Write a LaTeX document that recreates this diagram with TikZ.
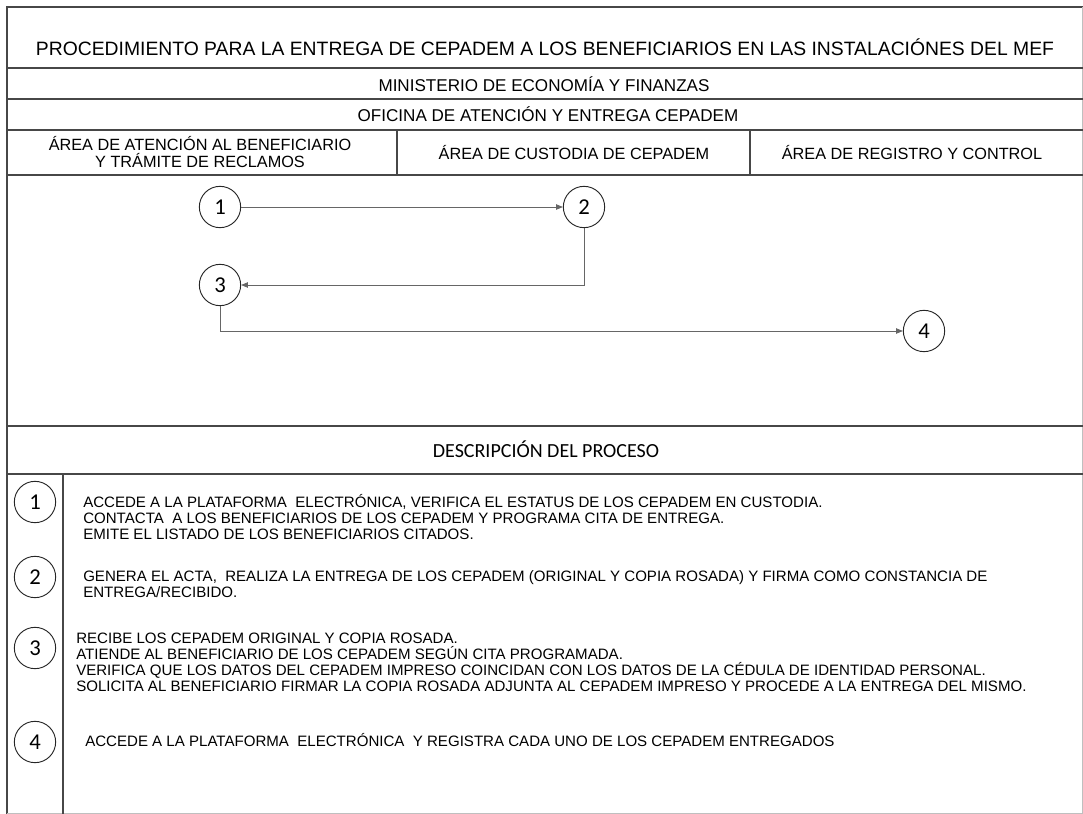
\documentclass[tikz,border=0pt]{standalone}
\usepackage{fontspec}
\setmainfont{Liberation Sans}
\newfontfamily\calibfont{Carlito}
\usetikzlibrary{arrows.meta}
\newcommand\titlefnt{\fontsize{14.5}{17}\selectfont}
\newcommand\hdrfnt{\fontsize{12.8}{15}\selectfont}
\newcommand\areafnt{\fontsize{12.2}{12.6}\selectfont}
\newcommand\descfnt{\fontsize{11.3}{13}\selectfont}
\newcommand\numfnt{\calibfont\fontsize{17}{19}\selectfont}
\newcommand\dhfnt{\calibfont\fontsize{15}{17}\selectfont}
\begin{document}
\begin{tikzpicture}[x=0.75pt,y=-0.75pt,
  frame/.style={draw=black!72, line width=0.9pt},
  numc/.style={circle, draw=black!85, line width=0.7pt, minimum size=31pt, inner sep=0pt, font=\numfnt},
  flow/.style={draw=black!60, line width=0.6pt, -{Triangle[length=5pt,width=4pt]}},
  hdr/.style={inner sep=0pt, font=\hdrfnt},
  area/.style={inner sep=0pt, font=\areafnt, align=center},
  dline/.style={anchor=base west, inner sep=0pt, font=\descfnt}]
\useasboundingbox (0,0) rectangle (1083,814);
% frame
\draw[frame] (1083,7) -- (7,7) -- (7,814);
\draw[draw=black!25, line width=0.6pt] (1082,7) -- (1082,813) -- (7,813);
\foreach \yy in {68,99,130,175,426,474}{\draw[frame] (7,\yy) -- (1083,\yy);}
\draw[frame] (397,130) -- (397,175);
\draw[frame] (750,130) -- (750,175);
\draw[frame] (63,474) -- (63,814);
% headers
\node[inner sep=0pt, font=\titlefnt] (title) at (545,47) {PROCEDIMIENTO PARA LA ENTREGA DE CEPADEM A LOS BENEFICIARIOS EN LAS INSTALACIÓNES DEL MEF};
\node[hdr] (mef) at (544,84) {MINISTERIO DE ECONOMÍA Y FINANZAS};
\node[hdr] (ofi) at (548,114) {OFICINA DE ATENCIÓN Y ENTREGA CEPADEM};
\node[area] (a1) at (200,152) {ÁREA DE ATENCIÓN AL BENEFICIARIO\\Y TRÁMITE DE RECLAMOS};
\node[area] (a2) at (574,153) {ÁREA DE CUSTODIA DE CEPADEM};
\node[area] (a3) at (912,153) {ÁREA DE REGISTRO Y CONTROL};
\node[inner sep=0pt, font=\dhfnt] (dh) at (546,449) {DESCRIPCIÓN DEL PROCESO};
% flow
\node[numc] (f1) at (220,207) {1};
\node[numc] (f2) at (584,207) {2};
\node[numc] (f3) at (220,285) {3};
\node[numc] (f4) at (924,331) {4};
\draw[flow] (f1) -- (f2);
\draw[flow] (f2.south) |- (f3.east);
\draw[flow] (f3.south) |- (f4.west);
% description circles
\node[numc] (c1) at (35,502) {1};
\node[numc] (c2) at (35,577) {2};
\node[numc] (c3) at (35,648) {3};
\node[numc] (c4) at (35,742) {4};
% description text
\node[dline] (d1a) at (83,507) {ACCEDE A LA PLATAFORMA \ ELECTRÓNICA, VERIFICA EL ESTATUS DE LOS CEPADEM EN CUSTODIA.};
\node[dline] (d1b) at (83,523) {CONTACTA \ A LOS BENEFICIARIOS DE LOS CEPADEM Y PROGRAMA CITA DE ENTREGA.};
\node[dline] (d1c) at (83,539) {EMITE EL LISTADO DE LOS BENEFICIARIOS CITADOS.};
\node[dline] (d2a) at (83,581) {GENERA EL ACTA, \ REALIZA LA ENTREGA DE LOS CEPADEM (ORIGINAL Y COPIA ROSADA) Y FIRMA COMO CONSTANCIA DE};
\node[dline] (d2b) at (83,597) {ENTREGA/RECIBIDO.};
\node[dline] (d3a) at (76,643) {RECIBE LOS CEPADEM ORIGINAL Y COPIA ROSADA.};
\node[dline] (d3b) at (76,659) {ATIENDE AL BENEFICIARIO DE LOS CEPADEM SEGÚN CITA PROGRAMADA.};
\node[dline] (d3c) at (76,675) {VERIFICA QUE LOS DATOS DEL CEPADEM IMPRESO COINCIDAN CON LOS DATOS DE LA CÉDULA DE IDENTIDAD PERSONAL.};
\node[dline] (d3d) at (76,691) {SOLICITA AL BENEFICIARIO FIRMAR LA COPIA ROSADA ADJUNTA AL CEPADEM IMPRESO Y PROCEDE A LA ENTREGA DEL MISMO.};
\node[dline] (d4a) at (85,746) {ACCEDE A LA PLATAFORMA \ ELECTRÓNICA \ Y REGISTRA CADA UNO DE LOS CEPADEM ENTREGADOS};
\end{tikzpicture}
\end{document}
